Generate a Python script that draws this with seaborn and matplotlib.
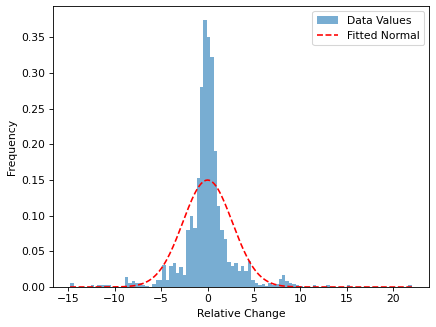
import numpy as np
import pandas as pd
import matplotlib
matplotlib.use("Agg")
import matplotlib.pyplot as plt
import seaborn as sns

# histogram bins (100 equal bins between the data min and max)
data_min = -14.8
data_max = 22.0
n_bins = 100

# density height of each bin
densities = [
    0.006, 0, 0, 0, 0, 0, 0.003, 0, 0.003, 0.003,
    0.003, 0.003, 0, 0, 0, 0, 0.0145, 0.006, 0.008, 0.006,
    0.005, 0.003, 0.002, 0, 0.004, 0.010, 0.010, 0.031, 0.010, 0.029,
    0.034, 0.020, 0.028, 0.017, 0.080, 0.099, 0.083, 0.153, 0.281, 0.375,
    0.350, 0.322, 0.190, 0.113, 0.080, 0.068, 0.035, 0.030, 0.033, 0.023,
    0.030, 0.023, 0.036, 0.010, 0.006, 0.003, 0.004, 0.002, 0.005, 0.003,
    0.004, 0.011, 0.017, 0.009, 0.005, 0.004, 0.003, 0.002, 0, 0,
    0, 0.003, 0, 0, 0, 0.003, 0, 0, 0, 0,
    0, 0.003, 0, 0, 0, 0, 0, 0, 0, 0,
    0, 0, 0, 0, 0, 0, 0, 0, 0, 0.003,
]

# fitted normal parameters
mu = 0.0
sigma = 2.66

DPI = 77


def main():
    edges = np.linspace(data_min, data_max, n_bins + 1)
    centers = (edges[:-1] + edges[1:]) / 2
    df = pd.DataFrame({"value": centers, "density": densities})

    fig = plt.figure(figsize=(436 / DPI, 327 / DPI), dpi=DPI)
    ax = fig.add_axes([53 / 436, 1 - 287 / 327, 376 / 436, 281 / 327])

    sns.histplot(data=df, x="value", weights="density", bins=edges.tolist(),
                 stat="count", color="tab:blue", alpha=0.6, linewidth=0,
                 ax=ax, label="Data Values")

    xs = np.linspace(data_min, data_max, 200)
    pdf = np.exp(-0.5 * ((xs - mu) / sigma) ** 2) / (sigma * np.sqrt(2 * np.pi))
    sns.lineplot(x=xs, y=pdf, color="red", linestyle="--", linewidth=1.5,
                 ax=ax, label="Fitted Normal")

    ax.set_xlabel("Relative Change")
    ax.set_ylabel("Frequency")
    ax.set_xticks([-15, -10, -5, 0, 5, 10, 15, 20])
    ax.set_xlim(-16.64, 23.84)
    ax.set_ylim(0, 0.394)

    # histogram first in the legend
    handles, labels = ax.get_legend_handles_labels()
    order = [labels.index("Data Values"), labels.index("Fitted Normal")]
    ax.legend([handles[i] for i in order], [labels[i] for i in order],
              loc="upper right")

    fig.savefig("out.png", dpi=DPI)


if __name__ == "__main__":
    main()
